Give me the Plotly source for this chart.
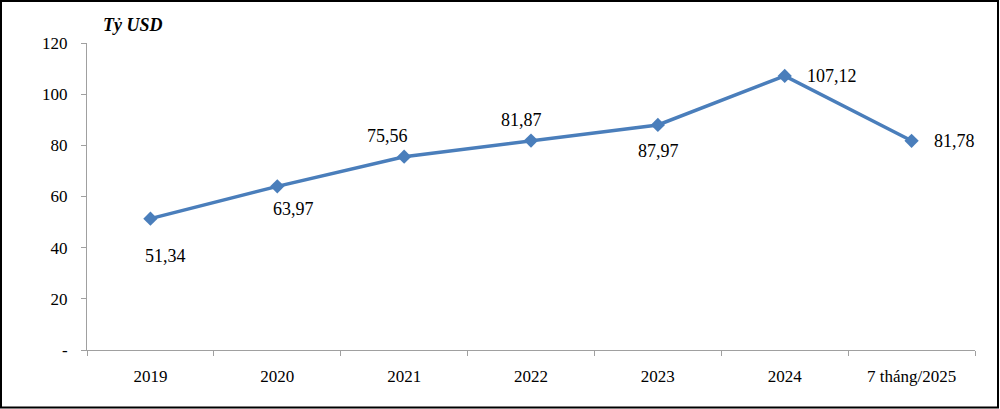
import plotly.graph_objects as go

categories = ["2019", "2020", "2021", "2022", "2023", "2024", "7 tháng/2025"]
values = [51.34, 63.97, 75.56, 81.87, 87.97, 107.12, 81.78]
value_labels = ["51,34", "63,97", "75,56", "81,87", "87,97", "107,12", "81,78"]
y_tickvals = [0, 20, 40, 60, 80, 100, 120]
y_ticktext = ["-", "20", "40", "60", "80", "100", "120"]

# label offsets in pixels (xshift, yshift, xanchor)
label_pos = [(15, -37, "center"), (16, -23, "center"), (-17, 21, "center"),
             (-10, 21, "center"), (1, -26, "center"), (20, 0, "left"), (20, 0, "left")]

FONT = "Liberation Serif, Times New Roman, serif"
W, H = 1000, 409
L, R, T, B = 87, 25, 43, 59
pw, ph = W - L - R, H - T - B

fig = go.Figure()
fig.add_trace(go.Scatter(
    x=categories, y=values, mode="lines+markers",
    line=dict(color="#4A7EBB", width=3.5),
    marker=dict(symbol="diamond", size=11, color="#4A7EBB"),
    hoverinfo="skip", showlegend=False,
))

annotations = []
for i, (v, t, (dx, dy, xa)) in enumerate(zip(values, value_labels, label_pos)):
    annotations.append(dict(x=i, y=v, xref="x", yref="y", text=t, showarrow=False,
                            xshift=dx, yshift=dy, xanchor=xa, yanchor="middle",
                            font=dict(family=FONT, size=18, color="#000000")))
annotations.append(dict(x=(101 - L) / pw, y=(H - B - 25) / ph, xref="paper", yref="paper",
                        text="<b><i>Tỷ USD</i></b>", showarrow=False, xanchor="left",
                        yanchor="middle", font=dict(family=FONT, size=18, color="#000000")))

fig.update_layout(
    width=W, height=H,
    margin=dict(l=L, r=R, t=T, b=B, pad=0),
    paper_bgcolor="white", plot_bgcolor="white",
    annotations=annotations,
    shapes=[dict(type="rect", xref="paper", yref="paper",
                 x0=(1 - L) / pw, x1=(998 - L) / pw,
                 y0=(H - B - 407.5) / ph, y1=(H - B - 1) / ph,
                 line=dict(color="#000000", width=2), fillcolor="rgba(0,0,0,0)", layer="below")],
    xaxis=dict(type="category", range=[-0.5, 6.5], showgrid=False, zeroline=False,
               showline=True, linecolor="#A0A0A0", linewidth=1,
               ticks="outside", ticklen=5, tickcolor="#A0A0A0", tickson="boundaries",
               ticklabelstandoff=11,
               tickfont=dict(family=FONT, size=17, color="#000000")),
    yaxis=dict(range=[0, 120], tickvals=y_tickvals, ticktext=y_ticktext,
               showgrid=False, zeroline=False, showline=True, linecolor="#A0A0A0",
               linewidth=1, ticks="outside", ticklen=5, tickcolor="#A0A0A0",
               ticklabelstandoff=10,
               tickfont=dict(family=FONT, size=17, color="#000000")),
)

fig.write_html("out.html", post_script="document.body.style.margin='0';",
               config={"displayModeBar": False})
